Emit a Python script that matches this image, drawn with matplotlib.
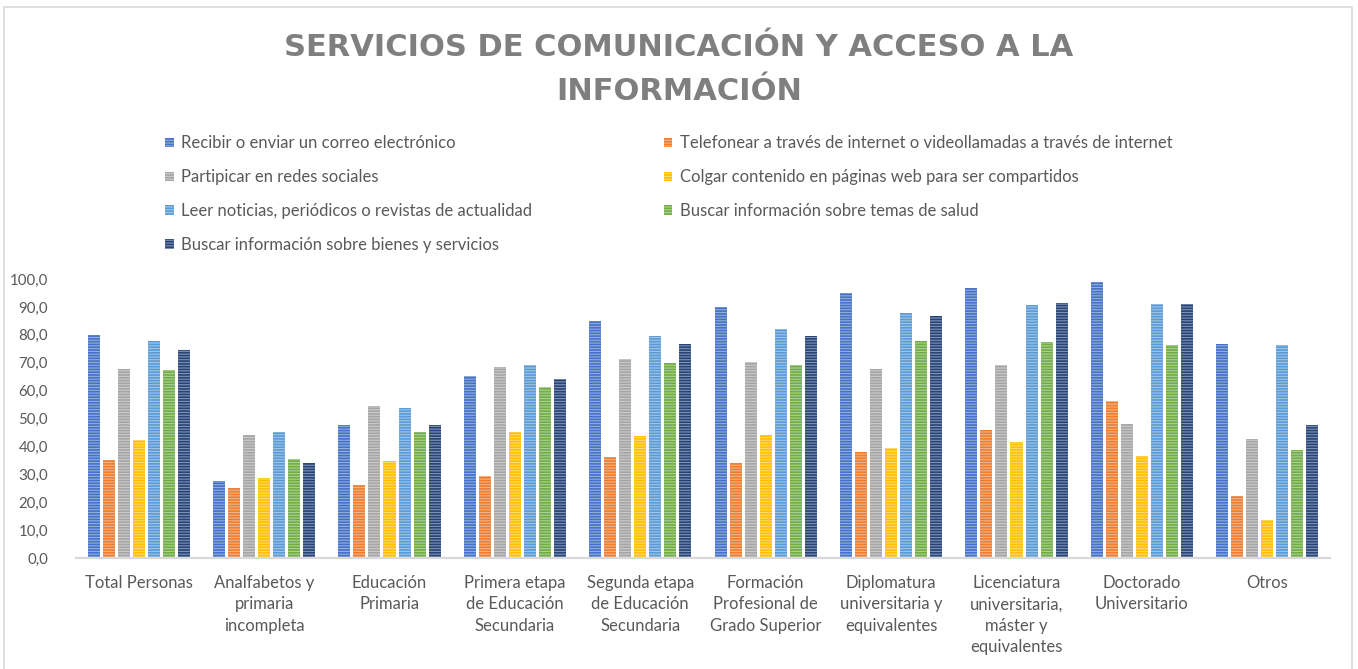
import matplotlib
matplotlib.use("Agg")
import matplotlib.pyplot as plt
from matplotlib.patches import Patch, Rectangle
import numpy as np

# data
categories = ["Total Personas", "Analfabetos y\nprimaria\nincompleta", "Educación\nPrimaria",
              "Primera etapa\nde Educación\nSecundaria", "Segunda etapa\nde Educación\nSecundaria",
              "Formación\nProfesional de\nGrado Superior", "Diplomatura\nuniversitaria y\nequivalentes",
              "Licenciatura\nuniversitaria,\nmáster y\nequivalentes", "Doctorado\nUniversitario", "Otros"]
series_names = ["Recibir o enviar un correo electrónico",
                "Telefonear a través de internet o videollamadas a través de internet",
                "Partipicar en redes sociales",
                "Colgar contenido en páginas web para ser compartidos",
                "Leer noticias, periódicos o revistas de actualidad",
                "Buscar información sobre temas de salud",
                "Buscar información sobre bienes y servicios"]
correo = [80.0, 27.7, 47.5, 65.1, 85.0, 89.8, 95.0, 96.8, 98.8, 76.6]
telefonear = [35.3, 25.2, 26.3, 29.5, 36.3, 34.1, 38.1, 45.7, 56.1, 22.3]
redes = [67.6, 44.0, 54.4, 68.3, 71.2, 70.4, 67.6, 69.1, 48.2, 42.7]
colgar = [42.2, 28.8, 34.6, 45.1, 43.6, 44.0, 39.6, 41.6, 36.7, 13.7]
noticias = [77.7, 45.2, 53.7, 69.3, 79.5, 82.1, 87.8, 90.8, 91.1, 76.3]
salud = [67.3, 35.6, 45.3, 61.4, 70.0, 69.3, 77.7, 77.3, 76.3, 38.8]
bienes = [74.5, 34.1, 47.5, 64.0, 76.6, 79.7, 86.6, 91.5, 91.1, 47.5]
yticks = [0, 10, 20, 30, 40, 50, 60, 70, 80, 90, 100]

PALETTE = ["#4472C4", "#ED7D31", "#A5A5A5", "#FFC000", "#5B9BD5", "#70AD47", "#264478"]
TXT = "#595959"; TITLE = "#7F7F7F"; FONT = "Lato"
plt.rcParams.update({"font.family": [FONT, "DejaVu Sans"], "hatch.linewidth": 0.8})

series = [correo, telefonear, redes, colgar, noticias, salud, bienes]
W, H = 1358, 669
fig = plt.figure(figsize=(W / 100, H / 100), dpi=100)
ax = fig.add_axes([76 / W, 1 - 558 / H, 1254 / W, 279 / H])

x = np.arange(len(categories))
pitch, bw = 0.12, 0.096
HATCH = "------"
for i, (vals, col) in enumerate(zip(series, PALETTE)):
    ax.bar(x + (i - 3) * pitch, vals, width=bw, color=col, hatch=HATCH,
           edgecolor=(1, 1, 1, 0.42), linewidth=0)

ax.set_xlim(-0.5, len(categories) - 0.5)
ax.set_ylim(0, 100)
ax.set_yticks(yticks)
ax.set_yticklabels([f"{t:.1f}".replace(".", ",") for t in yticks], fontsize=10.8, color=TXT)
ax.set_xticks(x)
ax.set_xticklabels(categories, fontsize=12, color=TXT, linespacing=1.43, va="top")
ax.tick_params(axis="y", length=0, pad=20)
ax.tick_params(axis="x", length=0, pad=12)
for sp in ["top", "right", "left"]:
    ax.spines[sp].set_visible(False)
ax.spines["bottom"].set_color("#D9D9D9"); ax.spines["bottom"].set_linewidth(1.6)

# legend, row-wise in two columns
handles = [Patch(facecolor=c, hatch=HATCH, edgecolor=(1, 1, 1, 0.42), linewidth=0) for c in PALETTE]
order = [0, 2, 4, 6, 1, 3, 5]
fig.legend([handles[k] for k in order], [series_names[k] for k in order], ncol=2,
           loc="upper left", bbox_to_anchor=(157 / W, 1 - 127 / H), frameon=False,
           fontsize=12, labelcolor=TXT, handlelength=0.5, handleheight=0.5,
           handletextpad=0.45, labelspacing=1.07, columnspacing=7.9, borderpad=0)

# title (DejaVu bold is wide enough to stand in for the letter-spaced original)
for txt, base in [("SERVICIOS DE COMUNICACIÓN Y ACCESO A LA", 56), ("INFORMACIÓN", 100)]:
    fig.text(0.5, 1 - base / H, txt, ha="center", va="baseline", fontsize=22,
             fontweight="bold", color=TITLE, family=["DejaVu Sans"])

# chart frame
fig.add_artist(Rectangle((4 / W, -0.05), 1348 / W, 1.05 - 7 / H, transform=fig.transFigure,
                         fill=False, edgecolor="#D9D9D9", linewidth=1.2))

fig.savefig("out.png", dpi=100)
